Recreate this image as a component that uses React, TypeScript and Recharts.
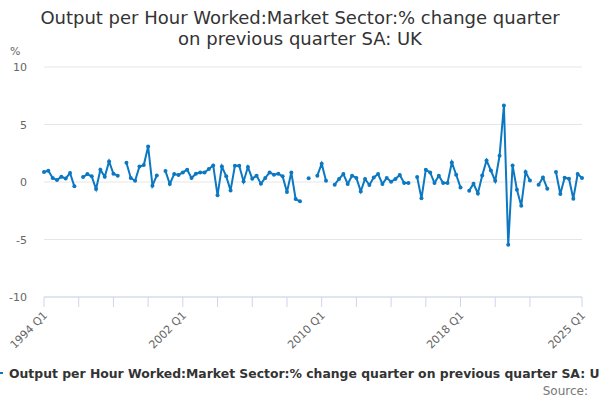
import { CartesianGrid, Line, LineChart, XAxis, YAxis } from "recharts";

const startYear = 1994;

// % change quarter on previous quarter, 1994 Q1 .. 2025 Q1 (null = no value shown)
const values: (number | null)[] = [
  0.87, 0.98, 0.35, 0.17, 0.46, 0.31, 0.78, -0.38,
  null, 0.43, 0.69, 0.49, -0.61, 1.07, 0.46, 1.79,
  0.72, 0.55, null, 1.68, 0.35, 0.11, 1.35, 1.47,
  3.09, -0.32, 0.57, null, 0.95, -0.17, 0.69, 0.61,
  0.83, 1.07, 0.35, 0.72, 0.83, 0.83, 1.13, 1.44,
  -1.16, 1.35, 0.49, -0.73, 1.41, 1.41, 0.05, 1.3,
  0.29, 0.55, -0.15, 0.35, 0.83, 0.63, 0.72, 0.49,
  -0.87, 0.83, -1.48, -1.68, null, 0.33, null, 0.55,
  1.59, 0.11, null, -0.23, 0.26, 0.69, -0.17, 0.55,
  0.35, -0.82, 0.26, -0.26, 0.4, 0.69, -0.17, 0.35,
  0.03, 0.26, 0.61, -0.09, -0.09, null, 0.43, -1.42,
  1.07, 0.83, -0.09, 0.55, -0.09, -0.09, 1.7, 0.63,
  -0.47, null, -0.75, -0.15, -0.99, 0.57, 1.88, 1.0,
  0.1, 2.28, 6.65, -5.45, 1.44, -0.67, -2.06, 0.87,
  0.14, null, -0.23, 0.4, -0.58, null, 0.87, -1.04,
  0.37, 0.29, -1.45, 0.69, 0.35,
];

const quarters = values.map((_, i) => `${startYear + Math.floor(i / 4)} Q${(i % 4) + 1}`);

const xTicks = [0, 8, 16, 24, 32, 40, 48, 56, 64, 72, 80, 88, 96, 104, 112, 124];
const xLabelled = [0, 32, 64, 96, 124];
const yTicks = [-10, -5, 0, 5, 10];

const seriesName = "Output per Hour Worked:Market Sector:% change quarter on previous quarter SA: UK";
const blue = "#0b78c1";

const data = values.map((v, i) => ({ i, value: v }));

function XTick(props: any) {
  const { x, payload } = props;
  if (!xLabelled.includes(payload.value)) return null;
  const ax = x + 4;
  const ay = 316;
  return (
    <text x={ax} y={ay} transform={`rotate(-45 ${ax} ${ay})`} textAnchor="end" fontSize={11} fill="#666">
      {quarters[payload.value]}
    </text>
  );
}

function YTick(props: any) {
  const { y, payload } = props;
  return (
    <text x={27} y={y + 4} textAnchor="end" fontSize={11} fill="#666">
      {payload.value}
    </text>
  );
}

export default function App() {
  return (
    <div
      style={{
        position: "absolute",
        left: 0,
        top: 0,
        width: 600,
        height: 400,
        overflow: "hidden",
        background: "#fff",
        fontFamily: "'DejaVu Sans', sans-serif",
      }}
    >
      <div
        style={{
          position: "absolute",
          top: 7,
          left: 0,
          width: 600,
          textAlign: "center",
          fontSize: 18,
          lineHeight: "21px",
          color: "#333",
        }}
      >
        Output per Hour Worked:Market Sector:% change quarter
        <br />
        on previous quarter SA: UK
      </div>
      <div style={{ position: "absolute", top: 45, left: 10, fontSize: 11, color: "#666" }}>%</div>
      <LineChart width={600} height={400} data={data} margin={{ top: 67, right: 18, bottom: 43, left: 0 }}>
        <CartesianGrid vertical={false} stroke="#e6e6e6" />
        <XAxis
          dataKey="i"
          type="number"
          domain={[0, 124]}
          ticks={xTicks}
          interval={0}
          height={60}
          stroke="#ccd6eb"
          tickSize={10}
          tick={<XTick />}
        />
        <YAxis
          width={44}
          domain={[-10, 10]}
          ticks={yTicks}
          axisLine={false}
          tickLine={false}
          tick={<YTick />}
        />
        <Line
          type="linear"
          dataKey="value"
          stroke={blue}
          strokeWidth={2}
          dot={{ r: 2, fill: blue, stroke: blue, strokeWidth: 0 }}
          activeDot={false}
          connectNulls={false}
          isAnimationActive={false}
        />
      </LineChart>
      <svg style={{ position: "absolute", left: 0, top: 0 }} width={600} height={400} pointerEvents="none">
        <line x1={-13} y1={373} x2={3} y2={373} stroke={blue} strokeWidth={2} />
        <text x={9} y={378} fontSize={12.4} fontWeight="bold" fill="#333">
          {seriesName}
        </text>
        <text x={588} y={395} fontSize={12} fill="#777" textAnchor="end">
          Source:
        </text>
      </svg>
    </div>
  );
}
